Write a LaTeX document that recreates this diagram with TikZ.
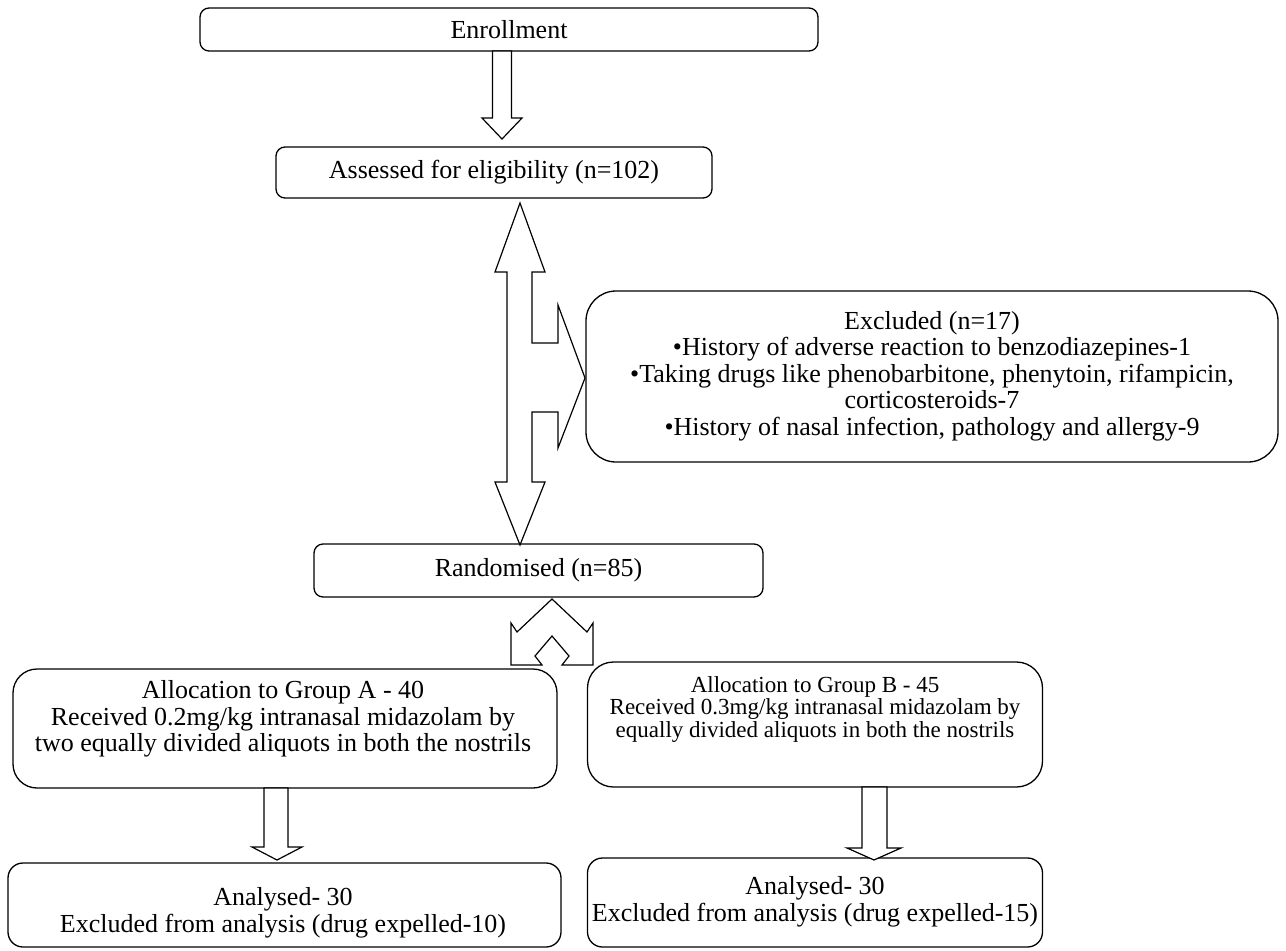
\documentclass[tikz,border=0pt]{standalone}
\usepackage{fontspec}
\setmainfont{Liberation Serif}
\begin{document}
\begin{tikzpicture}[x=1pt,y=-1pt,
  every node/.style={font=\fontsize{26}{26.5}\selectfont, inner sep=0pt},
  box/.style={draw, line width=1.3pt, rectangle},
  txt/.style={align=center},
  smalltxt/.style={align=center, font=\fontsize{23}{22.5}\selectfont},
  blockarrow/.style={draw, line width=1.2pt, fill=white, line join=miter}]
\useasboundingbox (0,0) rectangle (1286,951);
% boxes
\node[box, rounded corners=9pt, minimum width=618pt, minimum height=43pt] (enr) at (509,29.5) {Enrollment};
\node[box, rounded corners=9pt, minimum width=436pt, minimum height=51pt] (ass) at (494,172.5) {Assessed for eligibility (n=102)};
\node[box, rounded corners=30pt, minimum width=692pt, minimum height=171pt] (exc) at (932,376.5) {};
\node[txt] (exctxt) at (932,376) {Excluded (n=17)\\ •History of adverse reaction to benzodiazepines-1\\ •Taking drugs like phenobarbitone, phenytoin, rifampicin,\\ corticosteroids-7\\ •History of nasal infection, pathology and allergy-9};
\node[box, rounded corners=9pt, minimum width=449pt, minimum height=53pt] (rand) at (538.5,570.5) {Randomised (n=85)};
\node[box, rounded corners=24pt, minimum width=544pt, minimum height=119pt] (ga) at (285,728.5) {};
\node[txt] (gatxt) at (283,719) {Allocation to Group A - 40\\ Received 0.2mg/kg intranasal midazolam by\\ two equally divided aliquots in both the nostrils};
\node[box, rounded corners=26pt, minimum width=455pt, minimum height=125pt] (gb) at (815,724.5) {};
\node[smalltxt] (gbtxt) at (815,709) {Allocation to Group B - 45\\ Received 0.3mg/kg intranasal midazolam by\\ equally divided aliquots in both the nostrils};
\node[box, rounded corners=15pt, minimum width=553pt, minimum height=84pt] (aa) at (284.5,905) {};
\node[txt] (aatxt) at (283,913) {Analysed- 30\\ Excluded from analysis (drug expelled-10)};
\node[box, rounded corners=15pt, minimum width=455pt, minimum height=89pt] (ab) at (815,902.5) {};
\node[txt] (abtxt) at (815,902) {Analysed- 30\\ Excluded from analysis (drug expelled-15)};
% arrow enrollment -> assessed
\draw[blockarrow] (492.5,51) -- (511.5,51) -- (511.5,118) -- (522,118) -- (502,139) -- (482,118) -- (492.5,118) -- cycle;
% big double arrow with side branch
\draw[blockarrow] (520,203) -- (545,272) -- (532,272) -- (532,343) -- (558,343) -- (558,305) -- (585,378) -- (558,448) -- (558,412) -- (532,412) -- (532,482) -- (545,482) -- (520,545) -- (495,482) -- (507,482) -- (507,272) -- (495,272) -- cycle;
% split arrow
\draw[blockarrow] (552,599) -- (587,632) -- (593,623) -- (593,665) -- (562,665) -- (569,656) -- (552,636) -- (535,656) -- (542,665) -- (511,665) -- (511,623) -- (517,632) -- cycle;
% arrow group A -> analysed A
\draw[blockarrow] (264,788) -- (288,788) -- (288,847) -- (302,847) -- (277,860) -- (252,847) -- (264,847) -- cycle;
% arrow group B -> analysed B
\draw[blockarrow] (862,787) -- (887,787) -- (887,848) -- (901,848) -- (874,860) -- (847,848) -- (862,848) -- cycle;
\end{tikzpicture}
\end{document}
